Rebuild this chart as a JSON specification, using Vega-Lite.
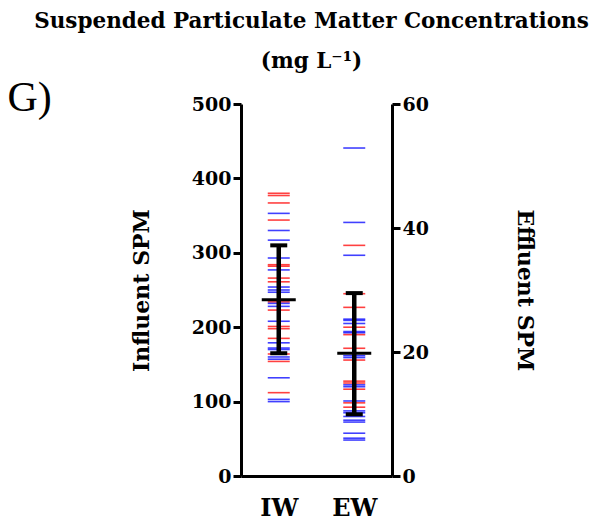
{
  "$schema": "https://vega.github.io/schema/vega-lite/v6.json",
  "autosize": "none",
  "width": 151,
  "height": 372,
  "padding": {"left": 241, "top": 104, "right": 213, "bottom": 47},
  "background": "white",
  "config": {
    "view": {"stroke": null},
    "axis": {
      "grid": false,
      "domainColor": "black",
      "domainWidth": 3,
      "tickColor": "black",
      "tickWidth": 3,
      "tickSize": 8,
      "labelFont": "DejaVu Serif",
      "labelFontWeight": "bold",
      "labelFontSize": 19,
      "labelColor": "black",
      "titleFont": "DejaVu Serif",
      "titleFontWeight": "bold",
      "titleFontSize": 22,
      "titleColor": "black"
    }
  },
  "title": {
    "text": ["Suspended Particulate Matter Concentrations", "(mg L⁻¹)"],
    "font": "DejaVu Serif",
    "fontWeight": "bold",
    "fontSize": 21.5,
    "lineHeight": 40,
    "color": "black",
    "anchor": "middle",
    "frame": "group",
    "dx": -5
  },
  "datasets": {
    "iw": [
      {"site": "IW", "value": 380, "series": "A"},
      {"site": "IW", "value": 377, "series": "A"},
      {"site": "IW", "value": 367, "series": "A"},
      {"site": "IW", "value": 353, "series": "B"},
      {"site": "IW", "value": 344, "series": "A"},
      {"site": "IW", "value": 330, "series": "B"},
      {"site": "IW", "value": 317, "series": "B"},
      {"site": "IW", "value": 293, "series": "B"},
      {"site": "IW", "value": 284, "series": "A"},
      {"site": "IW", "value": 282, "series": "A"},
      {"site": "IW", "value": 277, "series": "B"},
      {"site": "IW", "value": 266, "series": "A"},
      {"site": "IW", "value": 261, "series": "A"},
      {"site": "IW", "value": 254, "series": "B"},
      {"site": "IW", "value": 250, "series": "B"},
      {"site": "IW", "value": 247, "series": "B"},
      {"site": "IW", "value": 234, "series": "A"},
      {"site": "IW", "value": 232, "series": "B"},
      {"site": "IW", "value": 228, "series": "B"},
      {"site": "IW", "value": 223, "series": "A"},
      {"site": "IW", "value": 208, "series": "B"},
      {"site": "IW", "value": 201, "series": "A"},
      {"site": "IW", "value": 198, "series": "A"},
      {"site": "IW", "value": 185, "series": "A"},
      {"site": "IW", "value": 179, "series": "B"},
      {"site": "IW", "value": 172, "series": "B"},
      {"site": "IW", "value": 170, "series": "B"},
      {"site": "IW", "value": 164, "series": "A"},
      {"site": "IW", "value": 160, "series": "B"},
      {"site": "IW", "value": 157, "series": "B"},
      {"site": "IW", "value": 154, "series": "A"},
      {"site": "IW", "value": 132, "series": "B"},
      {"site": "IW", "value": 112, "series": "A"},
      {"site": "IW", "value": 103, "series": "B"},
      {"site": "IW", "value": 100, "series": "B"}
    ],
    "ew": [
      {"site": "EW", "value": 52.9, "series": "B"},
      {"site": "EW", "value": 40.9, "series": "B"},
      {"site": "EW", "value": 37.2, "series": "A"},
      {"site": "EW", "value": 35.6, "series": "B"},
      {"site": "EW", "value": 29.4, "series": "A"},
      {"site": "EW", "value": 27.2, "series": "A"},
      {"site": "EW", "value": 25.3, "series": "B"},
      {"site": "EW", "value": 25.1, "series": "B"},
      {"site": "EW", "value": 24.6, "series": "B"},
      {"site": "EW", "value": 24.0, "series": "A"},
      {"site": "EW", "value": 23.3, "series": "B"},
      {"site": "EW", "value": 23.1, "series": "B"},
      {"site": "EW", "value": 22.8, "series": "A"},
      {"site": "EW", "value": 20.6, "series": "A"},
      {"site": "EW", "value": 19.4, "series": "B"},
      {"site": "EW", "value": 19.1, "series": "B"},
      {"site": "EW", "value": 18.7, "series": "A"},
      {"site": "EW", "value": 15.3, "series": "A"},
      {"site": "EW", "value": 15.0, "series": "A"},
      {"site": "EW", "value": 14.7, "series": "B"},
      {"site": "EW", "value": 14.4, "series": "B"},
      {"site": "EW", "value": 14.0, "series": "A"},
      {"site": "EW", "value": 12.1, "series": "B"},
      {"site": "EW", "value": 11.8, "series": "A"},
      {"site": "EW", "value": 11.1, "series": "A"},
      {"site": "EW", "value": 10.5, "series": "B"},
      {"site": "EW", "value": 10.2, "series": "B"},
      {"site": "EW", "value": 9.6, "series": "B"},
      {"site": "EW", "value": 9.0, "series": "B"},
      {"site": "EW", "value": 8.7, "series": "B"},
      {"site": "EW", "value": 6.9, "series": "B"},
      {"site": "EW", "value": 6.1, "series": "B"},
      {"site": "EW", "value": 5.8, "series": "B"}
    ],
    "iwsum": [{"site": "IW", "mean": 237, "low": 165, "high": 310}],
    "ewsum": [{"site": "EW", "mean": 19.8, "low": 9.95, "high": 29.5}]
  },
  "resolve": {"scale": {"y": "independent"}, "axis": {"x": "independent", "y": "independent"}},
  "layer": [
    {
      "encoding": {
        "x": {
          "field": "site", "type": "nominal",
          "scale": {"type": "point", "domain": ["IW", "EW"], "padding": 0.5},
          "axis": {"orient": "bottom", "title": null, "labelAngle": 0, "ticks": false, "tickSize": 0, "labelPadding": 20, "labelFontSize": 24}
        },
        "y": {
          "type": "quantitative",
          "scale": {"domain": [0, 500], "nice": false},
          "axis": {"orient": "left", "title": "Influent SPM", "values": [0, 100, 200, 300, 400, 500], "labelPadding": 2, "titlePadding": 38}
        }
      },
      "layer": [
        {
          "data": {"name": "iw"},
          "mark": {"type": "tick", "size": 22, "thickness": 1.6, "opacity": 0.75},
          "encoding": {
            "y": {"field": "value"},
            "color": {"field": "series", "type": "nominal", "scale": {"domain": ["A", "B"], "range": ["#ff0000", "#0000ff"]}, "legend": null}
          }
        },
        {
          "data": {"name": "iwsum"},
          "mark": {"type": "rule", "color": "black", "strokeWidth": 4.5},
          "encoding": {"y": {"field": "low"}, "y2": {"field": "high"}}
        },
        {
          "data": {"name": "iwsum"},
          "mark": {"type": "tick", "size": 17, "thickness": 4, "color": "black", "opacity": 1},
          "encoding": {"y": {"field": "low"}}
        },
        {
          "data": {"name": "iwsum"},
          "mark": {"type": "tick", "size": 17, "thickness": 4, "color": "black", "opacity": 1},
          "encoding": {"y": {"field": "high"}}
        },
        {
          "data": {"name": "iwsum"},
          "mark": {"type": "tick", "size": 34, "thickness": 3, "color": "black", "opacity": 1},
          "encoding": {"y": {"field": "mean"}}
        }
      ]
    },
    {
      "encoding": {
        "x": {
          "field": "site", "type": "nominal",
          "scale": {"type": "point", "domain": ["IW", "EW"], "padding": 0.5},
          "axis": {"orient": "top", "title": "G)", "labels": false, "ticks": false, "domain": false,
                   "titleFont": "Liberation Serif", "titleFontWeight": "normal", "titleFontSize": 42,
                   "titleAlign": "left", "titleAnchor": "start", "titleBaseline": "alphabetic",
                   "titleX": -234, "titleY": 6}
        },
        "y": {
          "type": "quantitative",
          "scale": {"domain": [0, 60], "nice": false},
          "axis": {"orient": "right", "title": "Effluent SPM", "values": [0, 20, 40, 60], "labelPadding": 2, "titlePadding": 84}
        }
      },
      "layer": [
        {
          "data": {"name": "ew"},
          "mark": {"type": "tick", "size": 22, "thickness": 1.6, "opacity": 0.75},
          "encoding": {
            "y": {"field": "value"},
            "color": {"field": "series", "type": "nominal", "scale": {"domain": ["A", "B"], "range": ["#ff0000", "#0000ff"]}, "legend": null}
          }
        },
        {
          "data": {"name": "ewsum"},
          "mark": {"type": "rule", "color": "black", "strokeWidth": 4.5},
          "encoding": {"y": {"field": "low"}, "y2": {"field": "high"}}
        },
        {
          "data": {"name": "ewsum"},
          "mark": {"type": "tick", "size": 17, "thickness": 4, "color": "black", "opacity": 1},
          "encoding": {"y": {"field": "low"}}
        },
        {
          "data": {"name": "ewsum"},
          "mark": {"type": "tick", "size": 17, "thickness": 4, "color": "black", "opacity": 1},
          "encoding": {"y": {"field": "high"}}
        },
        {
          "data": {"name": "ewsum"},
          "mark": {"type": "tick", "size": 34, "thickness": 3, "color": "black", "opacity": 1},
          "encoding": {"y": {"field": "mean"}}
        }
      ]
    }
  ]
}
